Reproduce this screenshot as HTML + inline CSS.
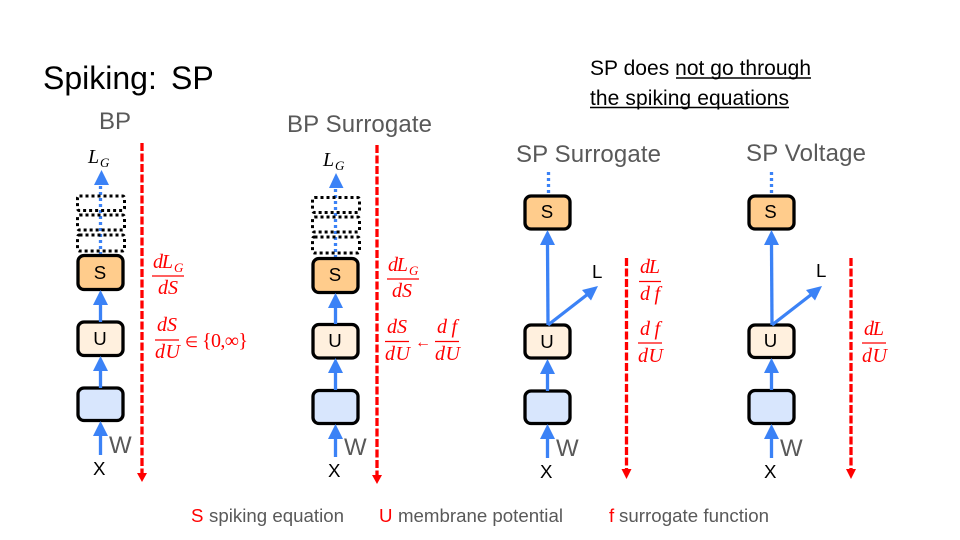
<!DOCTYPE html>
<html><head><meta charset="utf-8"><style>
html,body{margin:0;padding:0;background:#fff}
svg{display:block}
text{font-family:"Liberation Sans",sans-serif}
.m{font-family:"Liberation Serif",serif;font-style:italic;fill:#f00;font-size:20px}
.sub{font-family:"Liberation Serif",serif;font-style:italic;fill:#f00;font-size:13px}
.n{font-family:"Liberation Serif",serif;fill:#f00;font-size:20px}
.k{font-family:"Liberation Serif",serif;font-style:italic;fill:#000;font-size:20px}
.ks{font-family:"Liberation Serif",serif;font-style:italic;fill:#000;font-size:13px}
.g{fill:#595959}
.box{stroke:#000;stroke-width:3.300}
.dot{fill:none;stroke:#000;stroke-width:3;stroke-dasharray:3 3}
.bl{stroke:#3b82f6;stroke-width:3.300;fill:none}
.bd{stroke:#3b82f6;stroke-width:3.300;fill:none;stroke-dasharray:3 3}
.hd{fill:#3b82f6}
.r{stroke:#f00;stroke-width:3.300;stroke-dasharray:8 2.500;fill:none}
.rh{fill:#f00}
.fr{stroke:#f00;stroke-width:1.200}
</style></head><body>
<svg width="960" height="540" viewBox="0 0 960 540" xmlns="http://www.w3.org/2000/svg">
<rect width="960" height="540" fill="#fff"/>
<text x="43" y="89" font-size="32">Spiking:</text>
<text x="171" y="89" font-size="32">SP</text>
<text x="99" y="129" font-size="24" class="g">BP</text>
<text x="287" y="132" font-size="24" class="g" textLength="145">BP Surrogate</text>
<text x="516" y="162" font-size="24" class="g" textLength="145">SP Surrogate</text>
<text x="746" y="161" font-size="24" class="g" textLength="120">SP Voltage</text>
<text x="590" y="75" font-size="21" textLength="221">SP does not go through</text>
<text x="590" y="105" font-size="21" textLength="199">the spiking equations</text>
<line x1="676" y1="78" x2="811" y2="78" stroke="#000" stroke-width="1.600"/>
<line x1="590" y1="107.500" x2="789" y2="107.500" stroke="#000" stroke-width="1.600"/>

<!-- Column 1 -->
<text class="k" x="88" y="163">L</text>
<text class="ks" x="100" y="167">G</text>
<line class="bd" x1="100.500" y1="255" x2="100.500" y2="185"/>
<polygon class="hd" points="101.500,170 94,185 109,185"/>
<rect class="dot" x="77.500" y="196" width="47" height="14.500" rx="2"/>
<rect class="dot" x="77.500" y="215" width="47" height="15" rx="2"/>
<rect class="dot" x="77.500" y="235" width="47" height="16" rx="2"/>
<rect class="box" x="78" y="255.500" width="45" height="34" rx="6" fill="#ffcc8c"/>
<rect class="box" x="78" y="322" width="45" height="33.500" rx="6" fill="#fff0de"/>
<rect class="box" x="78" y="388" width="45" height="32.500" rx="6" fill="#d8e6fd"/>
<text x="100" y="279" font-size="18.670" text-anchor="middle">S</text>
<text x="100" y="345" font-size="18.670" text-anchor="middle">U</text>
<line class="bl" x1="100.500" y1="322" x2="100.500" y2="304"/><polygon class="hd" points="100.500,290 93,305 108,305"/>
<line class="bl" x1="100.500" y1="388" x2="100.500" y2="370"/><polygon class="hd" points="100.500,356 93,371 108,371"/>
<line class="bl" x1="100.500" y1="455" x2="100.500" y2="436"/><polygon class="hd" points="100.500,421 93,436 108,436"/>
<text x="109" y="453" font-size="24" class="g">W</text>
<text x="93" y="475" font-size="18.670">X</text>
<line class="r" x1="142" y1="143" x2="142" y2="474"/><polygon class="rh" points="142,482 137,473 147,473"/>
<text class="m" x="153" y="268" textLength="20">dL</text><text class="sub" x="174" y="272">G</text>
<line class="fr" x1="152" y1="276" x2="184" y2="276"/>
<text class="m" x="158" y="294" textLength="20">dS</text>
<text class="m" x="157" y="331" textLength="20">dS</text>
<line class="fr" x1="155" y1="340" x2="179" y2="340"/>
<text class="m" x="155" y="358" textLength="25">dU</text>
<text class="n" x="185" y="347" style="font-size:15px">∈</text>
<text class="n" x="202" y="347" textLength="46">{0,∞}</text>

<!-- Column 2 -->
<text class="k" x="323" y="166">L</text>
<text class="ks" x="335" y="170">G</text>
<line class="bd" x1="335.500" y1="258" x2="335.500" y2="188"/>
<polygon class="hd" points="336,173 329,188 343.500,188"/>
<rect class="dot" x="312.500" y="197.500" width="47" height="15" rx="2"/>
<rect class="dot" x="312.500" y="217" width="47" height="15" rx="2"/>
<rect class="dot" x="312.500" y="237" width="47" height="16" rx="2"/>
<rect class="box" x="313" y="258.500" width="45" height="34" rx="6" fill="#ffcc8c"/>
<rect class="box" x="313" y="324.500" width="45" height="33.500" rx="6" fill="#fff0de"/>
<rect class="box" x="313" y="390.500" width="45" height="33" rx="6" fill="#d8e6fd"/>
<text x="335" y="281" font-size="18.670" text-anchor="middle">S</text>
<text x="335" y="347" font-size="18.670" text-anchor="middle">U</text>
<line class="bl" x1="335.500" y1="324" x2="335.500" y2="307"/><polygon class="hd" points="335.500,293 328,308 343,308"/>
<line class="bl" x1="335.500" y1="390" x2="335.500" y2="373"/><polygon class="hd" points="335.500,358 328,373 343,373"/>
<line class="bl" x1="335.500" y1="457" x2="335.500" y2="439"/><polygon class="hd" points="335.500,424 328,439 343,439"/>
<text x="344" y="455" font-size="24" class="g">W</text>
<text x="328" y="477" font-size="18.670">X</text>
<line class="r" x1="377" y1="145" x2="377" y2="476"/><polygon class="rh" points="377,484 372,475 382,475"/>
<text class="m" x="388" y="271" textLength="20">dL</text><text class="sub" x="409" y="275">G</text>
<line class="fr" x1="387" y1="279" x2="419" y2="279"/>
<text class="m" x="392" y="297" textLength="20">dS</text>
<text class="m" x="387" y="333" textLength="20">dS</text>
<line class="fr" x1="385" y1="341.500" x2="409" y2="341.500"/>
<text class="m" x="385" y="360" textLength="25">dU</text>
<text class="n" x="415" y="347" style="font-size:16px">←</text>
<text class="m" x="437" y="333" textLength="20">df</text>
<line class="fr" x1="435" y1="341.500" x2="459" y2="341.500"/>
<text class="m" x="435" y="360" textLength="25">dU</text>

<!-- Column 3 -->
<line class="bd" x1="548.500" y1="172" x2="548.500" y2="194"/>
<rect class="box" x="525" y="196" width="45" height="33" rx="6" fill="#ffcc8c"/>
<text x="547" y="218" font-size="18.670" text-anchor="middle">S</text>
<rect class="box" x="525" y="325" width="45" height="33" rx="6" fill="#fff0de"/>
<text x="547" y="348" font-size="18.670" text-anchor="middle">U</text>
<rect class="box" x="525" y="391" width="45" height="32.500" rx="6" fill="#d8e6fd"/>
<line class="bl" x1="548" y1="325" x2="547.500" y2="244"/><polygon class="hd" points="547.500,230 540,245 555,245"/>
<line class="bl" x1="548" y1="325" x2="588" y2="294"/><polygon class="hd" points="598,286 591,300.500 582,290"/>
<line class="bl" x1="547.500" y1="391" x2="547.500" y2="373"/><polygon class="hd" points="547.500,359 540,374 555,374"/>
<line class="bl" x1="547.500" y1="458" x2="547.500" y2="439"/><polygon class="hd" points="547.500,424 540,439 555,439"/>
<text x="592" y="278" font-size="18.670">L</text>
<text x="556" y="456" font-size="24" class="g">W</text>
<text x="540" y="478" font-size="18.670">X</text>
<line class="r" x1="626.500" y1="258" x2="626.500" y2="471"/><polygon class="rh" points="626.500,479 621.500,469 631.500,469"/>
<text class="m" x="640" y="273" textLength="20">dL</text>
<line class="fr" x1="639" y1="281.500" x2="661" y2="281.500"/>
<text class="m" x="640" y="300" textLength="20">df</text>
<text class="m" x="640" y="335" textLength="20">df</text>
<line class="fr" x1="638" y1="343" x2="662" y2="343"/>
<text class="m" x="638" y="362" textLength="25">dU</text>

<!-- Column 4 -->
<line class="bd" x1="771.500" y1="172" x2="771.500" y2="194"/>
<rect class="box" x="749" y="196" width="45" height="33" rx="6" fill="#ffcc8c"/>
<text x="770.500" y="218" font-size="18.670" text-anchor="middle">S</text>
<rect class="box" x="749" y="325" width="45" height="32.500" rx="6" fill="#fff0de"/>
<text x="770.500" y="347" font-size="18.670" text-anchor="middle">U</text>
<rect class="box" x="749" y="390.500" width="45" height="33" rx="6" fill="#d8e6fd"/>
<line class="bl" x1="772" y1="325" x2="771.500" y2="244"/><polygon class="hd" points="771.500,230 764,245 779,245"/>
<line class="bl" x1="772" y1="325" x2="812" y2="294"/><polygon class="hd" points="822,286 815,300.500 806,290"/>
<line class="bl" x1="771.500" y1="390" x2="771.500" y2="372"/><polygon class="hd" points="771.500,358 764,373 779,373"/>
<line class="bl" x1="771.500" y1="458" x2="771.500" y2="439"/><polygon class="hd" points="771.500,424 764,439 779,439"/>
<text x="816" y="277" font-size="18.670">L</text>
<text x="780" y="456" font-size="24" class="g">W</text>
<text x="764" y="478" font-size="18.670">X</text>
<line class="r" x1="851" y1="258" x2="851" y2="471"/><polygon class="rh" points="851,479 846,469 856,469"/>
<text class="m" x="864" y="335" textLength="20">dL</text>
<line class="fr" x1="862" y1="343" x2="886" y2="343"/>
<text class="m" x="862" y="362" textLength="25">dU</text>

<!-- Legend -->
<text x="191" y="522" font-size="18.670" fill="#f00">S</text>
<text x="209" y="522" font-size="18.670" class="g" textLength="135">spiking equation</text>
<text x="379" y="522" font-size="18.670" fill="#f00">U</text>
<text x="398" y="522" font-size="18.670" class="g" textLength="165">membrane potential</text>
<text x="609" y="522" font-size="18.670" fill="#f00">f</text>
<text x="619" y="522" font-size="18.670" class="g" textLength="150">surrogate function</text>
</svg>
</body></html>
